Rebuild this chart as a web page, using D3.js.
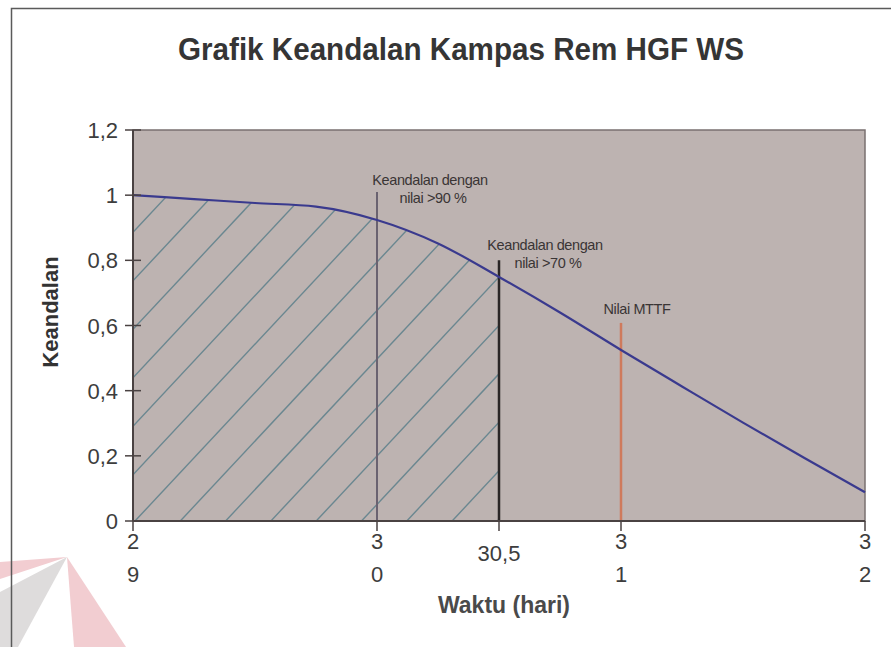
<html>
<head>
<script src="https://d3js.org/d3.v7.min.js"></script>
<style>
  body { margin: 0; background: #fff; }
  svg { display: block; }
  text { font-family: "Liberation Sans", Arial, sans-serif; }
</style>
</head>
<body>
<svg id="chart" width="891" height="647"></svg>
<script>
// data
var waktu     = [29, 29.25, 29.5, 29.75, 30, 30.25, 30.5, 30.75, 31, 31.25, 31.5, 31.75, 32];
var keandalan = [1.0, 0.988, 0.976, 0.965, 0.924, 0.852, 0.749, 0.64, 0.525, 0.413, 0.302, 0.194, 0.088];

var yTicks = [0, 0.2, 0.4, 0.6, 0.8, 1, 1.2];
var yTickLabels = ["0", "0,2", "0,4", "0,6", "0,8", "1", "1,2"];
var xTicks = [29, 30, 30.5, 31, 32];
var xTickLabels = [["2", "9"], ["3", "0"], ["30,5"], ["3", "1"], ["3", "2"]];

var batasX     = [30, 30.5, 31];            // vertical markers
var batasTop   = [1.01, 0.80, 0.608];
var batasLabel = [["Keandalan dengan", "nilai >90 %"], ["Keandalan dengan", "nilai >70 %"], ["Nilai MTTF"]];
var hatchEnd = 30.5;

var points = waktu.map((w, i) => ({x: w, y: keandalan[i]}));

var svg = d3.select("#chart");
var pLeft = 133, pRight = 865, pTop = 130, pBottom = 521;

var x = d3.scaleLinear().domain([29, 32]).range([pLeft, pRight]);
var y = d3.scaleLinear().domain([0, 1.2]).range([pBottom, pTop]);

// watermark bits at bottom-left
svg.append("polygon").attr("points", "0,562 67,557 0,579").attr("fill", "#f2cdd1");
svg.append("polygon").attr("points", "0,592 67,557 18,647 0,647").attr("fill", "#dedcdc");
svg.append("polygon").attr("points", "67,557 74,647 126,647").attr("fill", "#f2cdd1");

// outer frame
svg.append("path").attr("d", "M11.5,647 V8.5 H891")
  .attr("fill", "none").attr("stroke", "#5a5a5a").attr("stroke-width", 1.5);

// title
svg.append("text")
  .attr("x", 461).attr("y", 60)
  .attr("text-anchor", "middle")
  .attr("font-size", 31).attr("font-weight", "bold")
  .attr("fill", "#353535")
  .attr("textLength", 566).attr("lengthAdjust", "spacingAndGlyphs")
  .text("Grafik Keandalan Kampas Rem HGF WS");

// plot background
svg.append("rect")
  .attr("x", pLeft).attr("y", pTop)
  .attr("width", pRight - pLeft).attr("height", pBottom - pTop)
  .attr("fill", "#bdb3b1")
  .attr("stroke", "#7a7070").attr("stroke-width", 1.5);

// hatched area under the curve up to 30.5
var curve = d3.curveMonotoneX;
var area = d3.area().curve(curve).x(d => x(d.x)).y0(y(0)).y1(d => y(d.y));
svg.append("clipPath").attr("id", "hatchClip")
  .append("path").attr("d", area(points.filter(d => d.x <= hatchEnd)));

var hatch = svg.append("g").attr("clip-path", "url(#hatchClip)");
var slope = 1.07, step = 45.3;
var hatchStarts = d3.range(-10, 16).map(k => 135 + k * step);
hatch.selectAll("line").data(hatchStarts).enter().append("line")
  .attr("x1", d => d).attr("y1", pBottom)
  .attr("x2", d => d + (pBottom - pTop) / slope).attr("y2", pTop)
  .attr("stroke", "#6a8790").attr("stroke-width", 1.4);

// vertical markers
var markColors = ["#6a6270", "#2a2626", "#cf7a5c"];
var markWidth = [2, 2.5, 2.5];
svg.selectAll("line.mark").data(batasX).enter().append("line")
  .attr("class", "mark")
  .attr("x1", d => x(d)).attr("x2", d => x(d))
  .attr("y1", (d, i) => y(batasTop[i])).attr("y2", pBottom)
  .attr("stroke", (d, i) => markColors[i])
  .attr("stroke-width", (d, i) => markWidth[i]);

// marker labels
var labelPos = [[430, 185], [545, 250], [637, 314]];
batasLabel.forEach(function(lines, i) {
  var t = svg.append("text")
    .attr("text-anchor", "middle")
    .attr("font-size", 14.5).attr("letter-spacing", -0.4)
    .attr("fill", "#3a3535");
  lines.forEach(function(s, j) {
    t.append("tspan")
      .attr("x", labelPos[i][0] + (j ? 3 : 0))
      .attr("y", labelPos[i][1] + j * 18)
      .text(s);
  });
});

// reliability curve
var line = d3.line().curve(curve).x(d => x(d.x)).y(d => y(d.y));
svg.append("path").attr("d", line(points))
  .attr("fill", "none").attr("stroke", "#3a3a8e").attr("stroke-width", 2.2);

// axes
var axisColor = "#4a4242";
svg.append("line").attr("x1", pLeft).attr("x2", pRight).attr("y1", pBottom).attr("y2", pBottom)
  .attr("stroke", axisColor).attr("stroke-width", 2);
svg.append("line").attr("x1", pLeft).attr("x2", pLeft).attr("y1", pTop).attr("y2", pBottom)
  .attr("stroke", axisColor).attr("stroke-width", 2);

var yAxis = svg.append("g");
yAxis.selectAll("line").data(yTicks).enter().append("line")
  .attr("x1", pLeft - 8).attr("x2", pLeft + 8)
  .attr("y1", d => y(d)).attr("y2", d => y(d))
  .attr("stroke", axisColor).attr("stroke-width", 1.5);
yAxis.selectAll("text").data(yTicks).enter().append("text")
  .attr("x", 118).attr("y", d => y(d) + 8)
  .attr("text-anchor", "end")
  .attr("font-size", 22).attr("fill", "#3d3d3d")
  .text((d, i) => yTickLabels[i]);

var xAxis = svg.append("g");
xAxis.selectAll("line").data(xTicks).enter().append("line")
  .attr("x1", d => x(d)).attr("x2", d => x(d))
  .attr("y1", pBottom).attr("y2", pBottom + 10)
  .attr("stroke", axisColor).attr("stroke-width", 1.5);
xAxis.selectAll("text").data(xTicks).enter().append("text")
  .attr("text-anchor", "middle")
  .attr("font-size", 22).attr("fill", "#3d3d3d")
  .each(function(d, i) {
    var lab = xTickLabels[i];
    var t = d3.select(this);
    lab.forEach(function(s, j) {
      t.append("tspan")
        .attr("x", x(d))
        .attr("y", lab.length == 1 ? 561 : 549 + j * 33)
        .text(s);
    });
  });

// axis titles
svg.append("text")
  .attr("x", 504).attr("y", 613)
  .attr("text-anchor", "middle")
  .attr("font-size", 23).attr("font-weight", "bold")
  .attr("fill", "#4a4a4a")
  .text("Waktu (hari)");

svg.append("text")
  .attr("transform", "translate(58,312) rotate(-90)")
  .attr("text-anchor", "middle")
  .attr("font-size", 22).attr("font-weight", "bold")
  .attr("fill", "#333")
  .text("Keandalan");
</script>
</body>
</html>
